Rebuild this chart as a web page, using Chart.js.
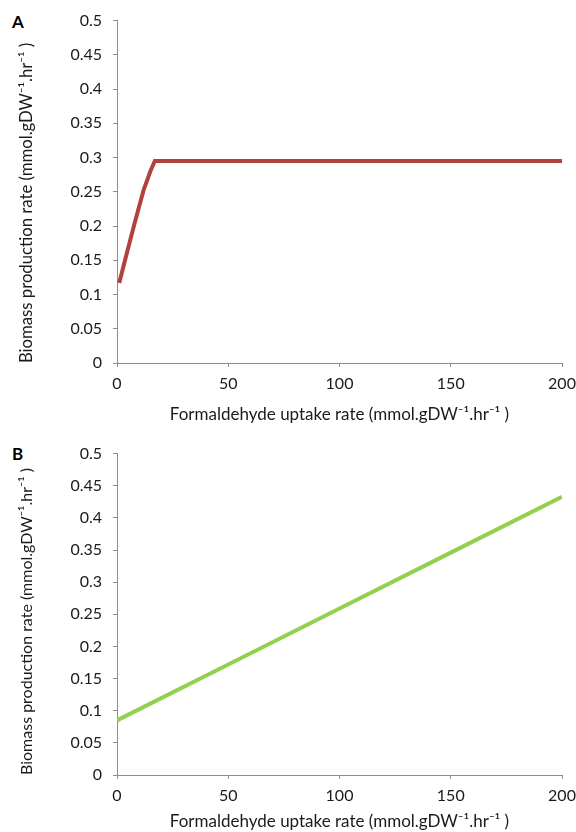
<!DOCTYPE html>
<html>
<head>
<meta charset="utf-8">
<script src="https://cdn.jsdelivr.net/npm/chart.js@4"></script>
<style>
    body { margin: 0; background: #fff; width: 576px; height: 832px; overflow: hidden; position: relative; }
    .panel { position: absolute; left: 0; width: 576px; }
    .tag { position: absolute; font-family: Lato, sans-serif; font-weight: bold; font-size: 17px; color: #000; }
</style>
</head>
<body>
<div class="tag" style="left:12px; top:11px;">A</div>
<div class="tag" style="left:12px; top:443px;">B</div>
<div class="panel" style="top:0; height:433px;"><canvas id="chartA" width="576" height="433"></canvas></div>
<div class="panel" style="top:433px; height:399px;"><canvas id="chartB" width="576" height="399"></canvas></div>
<script>
/* Data */
var uptakeA = [1, 4, 8, 12, 15, 17, 200];
var biomassA = [0.117, 0.155, 0.205, 0.253, 0.280, 0.295, 0.295];
var uptakeB = [0, 50, 100, 150, 200];
var biomassB = [0.085, 0.172, 0.259, 0.346, 0.433];
var xTicks = [0, 50, 100, 150, 200];
var yTicks = [0, 0.05, 0.1, 0.15, 0.2, 0.25, 0.3, 0.35, 0.4, 0.45, 0.5];

var xTitle = 'Formaldehyde uptake rate (mmol.gDW\u207B\u00B9.hr\u207B\u00B9 )';
var yTitle = 'Biomass production rate (mmol.gDW\u207B\u00B9.hr\u207B\u00B9 )';

/* Colors */
var red_color = '#b0413d';
var green_color = '#92d050';
var axis_color = '#8c8c8c';
var text_color = '#1a1a1a';

Chart.defaults.font.family = 'Lato';
Chart.defaults.color = text_color;

/* Build points from two arrays */
function toPoints(xs, ys) {
    return xs.map(function(x, i) { return { x: x, y: ys[i] }; });
}

/* One panel */
function makeChart(id, xs, ys, color, padTop, xHeight, xTitlePad, yTitleSize) {
    return new Chart(document.getElementById(id), {
        type: 'line',
        data: {
            datasets: [{
                data: toPoints(xs, ys),
                borderColor: color,
                borderWidth: 4,
                pointRadius: 0,
                tension: 0,
                fill: false
            }]
        },
        options: {
            responsive: false,
            animation: false,
            layout: { padding: { top: padTop, right: 14, left: 0, bottom: 0 } },
            plugins: { legend: { display: false }, tooltip: { enabled: false } },
            scales: {
                x: {
                    type: 'linear',
                    min: 0,
                    max: 200,
                    afterBuildTicks: function(scale) {
                        scale.ticks = xTicks.map(function(v) { return { value: v }; });
                    },
                    afterFit: function(scale) {
                        // fixed axis height, no extra side padding for labels
                        scale.height = xHeight;
                        scale.paddingLeft = 0;
                        scale.paddingRight = 0;
                    },
                    grid: { drawOnChartArea: false, color: axis_color, tickLength: 4 },
                    border: { color: axis_color, width: 1 },
                    ticks: { font: { size: 16 }, padding: 7, maxRotation: 0 },
                    title: { display: true, text: xTitle, font: { size: 17 }, padding: { top: 0, bottom: xTitlePad } }
                },
                y: {
                    min: 0,
                    max: 0.5,
                    afterBuildTicks: function(scale) {
                        scale.ticks = yTicks.map(function(v) { return { value: v }; });
                    },
                    afterFit: function(scale) { scale.width = 117; },
                    grid: { drawOnChartArea: false, color: axis_color, tickLength: 4 },
                    border: { color: axis_color, width: 1 },
                    ticks: {
                        font: { size: 16 },
                        padding: 11,
                        callback: function(v) { return String(Number(v.toFixed(2))); }
                    },
                    title: { display: true, text: yTitle, align: 'start', font: { size: yTitleSize }, padding: { top: 17, bottom: 0 } }
                }
            }
        }
    });
}

makeChart('chartA', uptakeA, biomassA, red_color, 20, 70, 8, 16.7);
makeChart('chartB', uptakeB, biomassB, green_color, 19, 57, 0, 16);
</script>
</body>
</html>
